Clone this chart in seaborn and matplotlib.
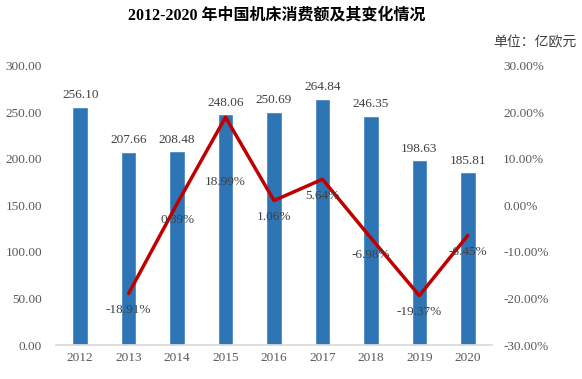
import numpy as np
import pandas as pd
import matplotlib
matplotlib.use("Agg")
import matplotlib.pyplot as plt
import seaborn as sns

# data
years = ["2012", "2013", "2014", "2015", "2016", "2017", "2018", "2019", "2020"]
consumption = [256.10, 207.66, 208.48, 248.06, 250.69, 264.84, 246.35, 198.63, 185.81]
growth = [-18.91, 0.39, 18.99, 1.06, 5.64, -6.98, -19.37, -6.45]  # 2013-2020, percent

sns.set_theme(style="white")
plt.rcParams['font.family'] = ['Liberation Serif', 'Noto Sans CJK SC']

df = pd.DataFrame({"year": years, "value": consumption})
df_line = pd.DataFrame({"pos": np.arange(1, len(years)), "growth": growth})

fig = plt.figure(figsize=(5.82, 3.79), dpi=100)
ax = fig.add_axes([56 / 582, 1 - 345 / 379, (492 - 56) / 582, (345 - 66) / 379])

# bars
sns.barplot(data=df, x="year", y="value", ax=ax, color="#2E75B6", saturation=1, width=0.32)
ax.set_ylim(0, 300)
ax.set_xlim(-0.5, len(years) - 0.5)
ax.set_yticks(np.arange(0, 301, 50))
ax.set_yticklabels([f"{v:.2f}" for v in np.arange(0, 301, 50)])
ax.set_xlabel("")
ax.set_ylabel("")
for i, v in enumerate(consumption):
    ax.annotate(f"{v:.2f}", (i, v), xytext=(0, 4), textcoords="offset points",
                ha="center", va="bottom", fontsize=9.5, color="#404040")

# growth line on secondary axis
ax2 = ax.twinx()
sns.lineplot(data=df_line, x="pos", y="growth", ax=ax2, color="#C00000", linewidth=2.5)
ax2.set_ylim(-30, 30)
ax2.set_yticks(np.arange(-30, 31, 10))
ax2.set_yticklabels([f"{v:.2f}%" for v in np.arange(-30, 31, 10)])
ax2.set_ylabel("")
ax2.set_xlabel("")
offsets = [-12, -12, -47, -12, -12, -12, -12, -12]
for p, g, off in zip(df_line["pos"], growth, offsets):
    ax2.annotate(f"{g:.2f}%", (p, g), xytext=(0, off), textcoords="offset points",
                 ha="center", va="center", fontsize=9.5, color="#404040")

for a in (ax, ax2):
    for s in a.spines.values():
        s.set_visible(False)
    a.tick_params(axis="both", length=0, labelsize=9.5, colors="#595959")
ax.spines["bottom"].set_visible(True)
ax.spines["bottom"].set_color("#D9D9D9")
ax.tick_params(axis="y", pad=10)
ax2.tick_params(axis="y", pad=8)
ax.tick_params(axis="x", pad=5)

fig.text(277 / 582, 1 - 16 / 379, "2012-2020 年中国机床消费额及其变化情况", ha="center", va="center",
         fontsize=11.5, fontweight="bold", color="black")
fig.text(577 / 582, 1 - 43 / 379, "单位：亿欧元", ha="right", va="center",
         fontsize=10, color="#404040")

fig.savefig("out.png", dpi=100)
